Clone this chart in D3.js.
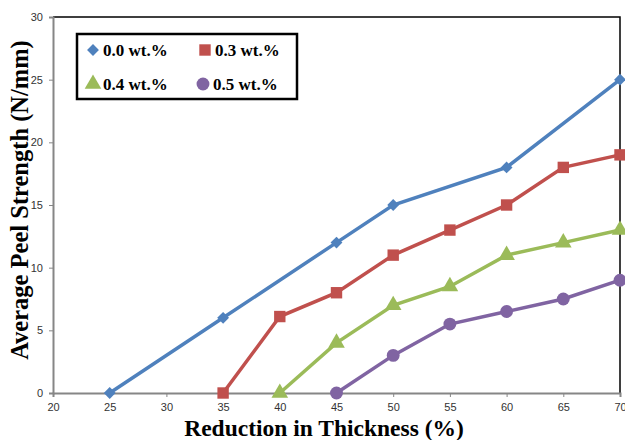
<!DOCTYPE html>
<meta charset="utf-8">
<head>
    <title>Peel Strength</title>
</head>
<style>
    body { margin: 0; background: #fff; }
    .tick text { font-family: "Liberation Sans", Arial, sans-serif; font-size: 11px; fill: #333; }
</style>
<div id="chart"></div>
<script src="https://d3js.org/d3.v7.min.js"></script>
<script>

    // values
    var xTicks = [20, 25, 30, 35, 40, 45, 50, 55, 60, 65, 70];
    var yTicks = [0, 5, 10, 15, 20, 25, 30];

    var names = ["0.0 wt.%", "0.3 wt.%", "0.4 wt.%", "0.5 wt.%"];
    var colors = ["#4F81BD", "#C0504D", "#9BBB59", "#8064A2"];
    var shapes = [d3.symbolSquare, d3.symbolSquare, d3.symbolTriangle, d3.symbolCircle];

    var s00 = [[25, 0], [35, 6], [45, 12], [50, 15], [60, 18], [70, 25]];
    var s03 = [[35, 0], [40, 6.1], [45, 8], [50, 11], [55, 13], [60, 15], [65, 18], [70, 19]];
    var s04 = [[40, 0], [45, 4], [50, 7], [55, 8.5], [60, 11], [65, 12], [70, 13]];
    var s05 = [[45, 0], [50, 3], [55, 5.5], [60, 6.5], [65, 7.5], [70, 9]];
    var series = [s00, s03, s04, s05];

    var margin = {top: 17, right: 5, bottom: 47, left: 53},
        width = 625 - margin.left - margin.right,
        height = 440 - margin.top - margin.bottom;

    var svg = d3.select("#chart")
      .append("svg")
        .attr("width", 625)
        .attr("height", 440)
      .append("g")
        .attr("transform", "translate(" + margin.left + "," + margin.top + ")");

    var x = d3.scaleLinear().domain([20, 70]).range([0, 567]);
    var y = d3.scaleLinear().domain([0, 30]).range([376, 0]);

    // plot frame (top and right in black)
    svg.append("path")
      .attr("d", "M0," + y(30) + "H" + x(70) + "V" + y(0))
      .attr("fill", "none")
      .attr("stroke", "#000")
      .attr("stroke-width", 1.5);

    var xAxis = svg.append("g")
      .attr("transform", "translate(0," + y(0) + ")")
      .call(d3.axisBottom(x).tickValues(xTicks).tickSize(4).tickPadding(6));
    var yAxis = svg.append("g")
      .call(d3.axisLeft(y).tickValues(yTicks).tickSize(4).tickPadding(6));
    [xAxis, yAxis].forEach(function(a) {
        a.select(".domain").attr("stroke", "#868686").attr("stroke-width", 2);
        a.selectAll(".tick line").attr("stroke", "#868686");
    });

    var line = d3.line()
      .x(function(d) { return x(d[0]); })
      .y(function(d) { return y(d[1]); });

    var sizes = [70, 130, 120, 130];
    var rot = [45, 0, 0, 0];

    series.forEach(function(s, i) {
        svg.append("path")
          .datum(s)
          .attr("fill", "none")
          .attr("stroke", colors[i])
          .attr("stroke-width", 3.5)
          .attr("d", line);
        svg.selectAll(".m" + i)
          .data(s)
          .enter().append("path")
          .attr("transform", function(d) { return "translate(" + x(d[0]) + "," + y(d[1]) + ") rotate(" + rot[i] + ")"; })
          .attr("d", d3.symbol().type(shapes[i]).size(sizes[i]))
          .attr("fill", colors[i]);
    });

    // legend
    var lg = svg.append("g").attr("transform", "translate(" + (77 - margin.left) + "," + (34 - margin.top) + ")");
    lg.append("rect")
      .attr("width", 220).attr("height", 65)
      .attr("fill", "#fff").attr("stroke", "#000").attr("stroke-width", 2.5);
    var pos = [[16, 16], [128, 16], [16, 50], [126, 50]];
    names.forEach(function(n, i) {
        lg.append("path")
          .attr("transform", "translate(" + pos[i][0] + "," + pos[i][1] + ") rotate(" + rot[i] + ")")
          .attr("d", d3.symbol().type(shapes[i]).size(sizes[i]))
          .attr("fill", colors[i]);
        lg.append("text")
          .attr("x", pos[i][0] + 10)
          .attr("y", pos[i][1] + 6)
          .style("font-family", "'Liberation Serif', 'Times New Roman', serif")
          .style("font-weight", "bold")
          .style("font-size", "17px")
          .text(n);
    });

    svg.append("text")
      .attr("transform", "translate(" + (28 - margin.left) + "," + (200 - margin.top) + ") rotate(-90)")
      .attr("text-anchor", "middle")
      .style("font-family", "'Liberation Serif', 'Times New Roman', serif")
      .style("font-weight", "bold")
      .style("font-size", "24.5px")
      .text("Average Peel Strength (N/mm)");

    svg.append("text")
      .attr("x", 324 - margin.left)
      .attr("y", 436 - margin.top)
      .attr("text-anchor", "middle")
      .style("font-family", "'Liberation Serif', 'Times New Roman', serif")
      .style("font-weight", "bold")
      .style("font-size", "23.5px")
      .text("Reduction in Thickness (%)");
</script>
